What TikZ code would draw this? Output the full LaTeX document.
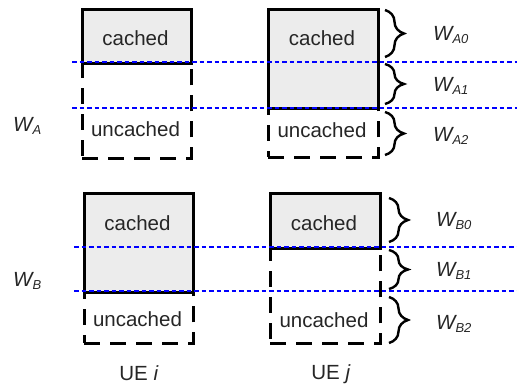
\documentclass[tikz,border=0pt]{standalone}
\usepackage{fontspec}
\setmainfont{Liberation Sans}
\usetikzlibrary{decorations.pathreplacing}
\begin{document}
\begin{tikzpicture}[x=1pt,y=-1pt,
  cachedbox/.style={draw=black, line width=2.8pt, fill=gray!15, inner sep=0pt, anchor=north west},
  uncbox/.style={draw=black, line width=2.8pt, dash pattern=on 16pt off 10pt, inner sep=0pt, anchor=north west},
  level/.style={draw=blue, line width=2.4pt, dash pattern=on 4.5pt off 3pt},
  wbrace/.style={draw=black, line width=2.4pt, decorate, decoration={brace, amplitude=19pt, aspect=0.5}},
  lbl/.style={font=\fontsize{20.5}{24}\selectfont, text=black!85, anchor=base, inner sep=0pt},
  wlbl/.style={font=\fontsize{20.5}{24}\selectfont\itshape, text=black!85, anchor=base west, inner sep=0pt}
]
\useasboundingbox (0,0) rectangle (517,387);
\newcommand{\wsub}[2]{#1\raisebox{-3pt}{\fontsize{13}{13}\selectfont #2}}

% ---- top group (A)
\node[uncbox, minimum width=109pt, minimum height=95pt] (ua) at (81,62) {};
\node[cachedbox, minimum width=109pt, minimum height=54pt] (ca) at (81,8) {};
\node[uncbox, minimum width=110pt, minimum height=49pt] (ub) at (267,107) {};
\node[cachedbox, minimum width=110pt, minimum height=99pt] (cb) at (267,8) {};

\node[lbl] (tca) at (135.5,46) {cached};
\node[lbl] (tua) at (135.5,136.5) {uncached};
\node[lbl] (tcb) at (322,46) {cached};
\node[lbl] (tub) at (322,138) {uncached};

% ---- bottom group (B)
\node[uncbox, minimum width=109pt, minimum height=51pt] (uc) at (83,291) {};
\node[cachedbox, minimum width=109pt, minimum height=99pt] (cc) at (83,192) {};
\node[uncbox, minimum width=110pt, minimum height=95pt] (ud) at (269,247) {};
\node[cachedbox, minimum width=110pt, minimum height=55pt] (cd) at (269,192) {};

\node[lbl] (tcc) at (137.5,231) {cached};
\node[lbl] (tuc) at (137.5,327) {uncached};
\node[lbl] (tcd) at (324,231) {cached};
\node[lbl] (tud) at (324,328) {uncached};

% ---- braces
\coordinate (a0s) at (385,10);  \coordinate (a0e) at (385,57);
\coordinate (a1s) at (385,64);  \coordinate (a1e) at (385,104);
\coordinate (a2s) at (385,112); \coordinate (a2e) at (385,155);
\coordinate (b0s) at (389,198); \coordinate (b0e) at (389,242);
\coordinate (b1s) at (389,250); \coordinate (b1e) at (389,289);
\coordinate (b2s) at (389,297); \coordinate (b2e) at (389,343);
\draw[wbrace] (a0s) -- (a0e);
\draw[wbrace] (a1s) -- (a1e);
\draw[wbrace] (a2s) -- (a2e);
\draw[wbrace] (b0s) -- (b0e);
\draw[wbrace] (b1s) -- (b1e);
\draw[wbrace] (b2s) -- (b2e);

\node[wlbl] (wa0) at (433,41) {\wsub{W}{A0}};
\node[wlbl] (wa1) at (433,92) {\wsub{W}{A1}};
\node[wlbl] (wa2) at (433,142) {\wsub{W}{A2}};
\node[wlbl] (wb0) at (436,227) {\wsub{W}{B0}};
\node[wlbl] (wb1) at (436,277) {\wsub{W}{B1}};
\node[wlbl] (wb2) at (436,330) {\wsub{W}{B2}};
\node[wlbl] (wa) at (13,131.5) {\wsub{W}{A}};
\node[wlbl] (wb) at (13,287) {\wsub{W}{B}};

\node[lbl] (uei) at (139,380.5) {UE \textit{i}};
\node[lbl] (uej) at (331,380) {UE \textit{j}};

% ---- blue level lines
\coordinate (l1s) at (72,62);  \coordinate (l1e) at (517,62);
\coordinate (l2s) at (72,108); \coordinate (l2e) at (517,108);
\coordinate (l3s) at (74,247); \coordinate (l3e) at (517,247);
\coordinate (l4s) at (74,291); \coordinate (l4e) at (517,291);
\draw[level] (l1s) -- (l1e);
\draw[level] (l2s) -- (l2e);
\draw[level] (l3s) -- (l3e);
\draw[level] (l4s) -- (l4e);
\end{tikzpicture}
\end{document}
